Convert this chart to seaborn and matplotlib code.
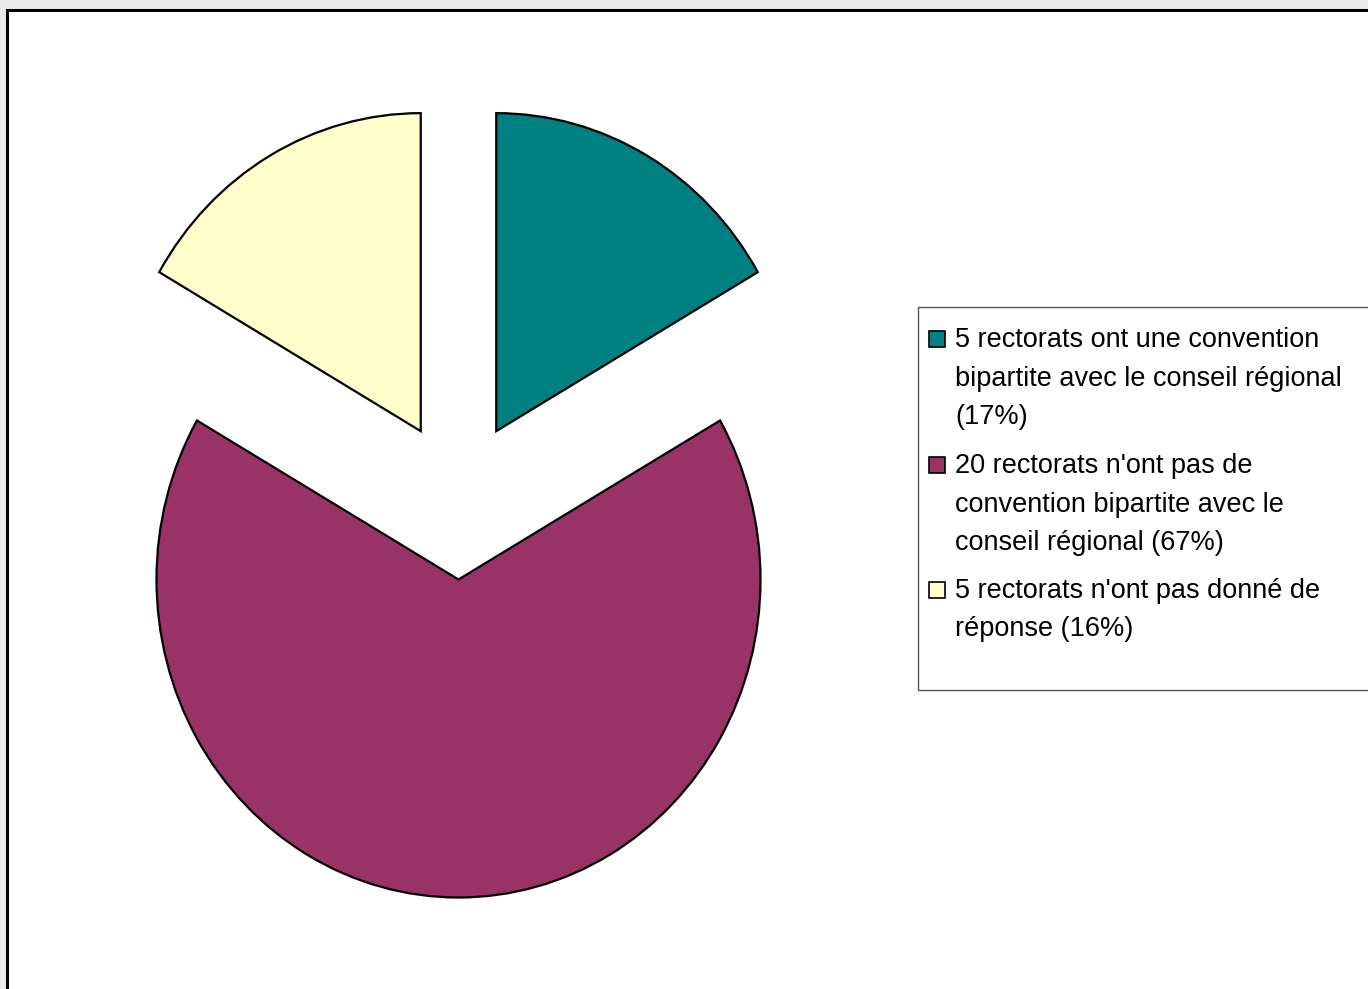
import matplotlib.pyplot as plt
import seaborn as sns
from matplotlib.patches import Rectangle

# values from the chart (rectorats per answer)
LABELS = [
    "5 rectorats ont une convention\nbipartite avec le conseil régional\n(17%)",
    "20 rectorats n'ont pas de\nconvention bipartite avec le\nconseil régional (67%)",
    "5 rectorats n'ont pas donné de\nréponse (16%)",
]
COUNTS = [5, 20, 5]
COLORS = ["#008080", "#993366", "#FFFFCC"]

W, H = 1368, 989


def fx(px):
    return px / W


def fy(py):
    return 1 - py / H


def main() -> None:
    sns.set_theme(style="white")
    plt.rcParams["font.family"] = ["Liberation Sans", "DejaVu Sans"]

    fig = plt.figure(figsize=(W / 100, H / 100), dpi=100, facecolor="#ECE9E9")

    # white chart area with dark border
    fig.patches.append(
        Rectangle(
            (fx(6.5), -0.05), 1.1, fy(9.5) + 0.05,
            transform=fig.transFigure, facecolor="white",
            edgecolor="black", linewidth=2.2, zorder=-2,
        )
    )

    ax = fig.add_axes([0, 0, 1, 1])
    ax.set_zorder(1)
    ax.patch.set_alpha(0)
    ax.pie(
        COUNTS,
        colors=COLORS,
        startangle=90,
        counterclock=False,
        explode=[0.25] * len(COUNTS),
        wedgeprops={"edgecolor": "black", "linewidth": 1.6},
    )
    # the original pie is slightly taller than wide
    ax.set_aspect("auto")
    cx, cy, rx, ry = 458.5, 500, 302, 318
    ax.set_xlim(-cx / rx, (W - cx) / rx)
    ax.set_ylim((cy - H) / ry, cy / ry)
    ax.axis("off")

    # legend box
    fig.patches.append(
        Rectangle(
            (fx(917.5), fy(690)), 1.0, fy(307) - fy(690),
            transform=fig.transFigure, facecolor="white",
            edgecolor="#555555", linewidth=1.0, zorder=-1,
        )
    )
    first_baselines = [347, 473, 598]
    line_step = 38.5
    for label, color, base in zip(LABELS, COLORS, first_baselines):
        fig.patches.append(
            Rectangle(
                (fx(929), fy(base)), fx(16), fy(base - 16) - fy(base),
                transform=fig.transFigure, facecolor=color,
                edgecolor="black", linewidth=1.2, zorder=2,
            )
        )
        for i, line in enumerate(label.split("\n")):
            fig.text(
                fx(955), fy(base + i * line_step), line,
                fontsize=19.5, va="baseline", ha="left", color="black", zorder=3,
            )

    fig.savefig("out.png", dpi=100, facecolor=fig.get_facecolor())


if __name__ == "__main__":
    main()
